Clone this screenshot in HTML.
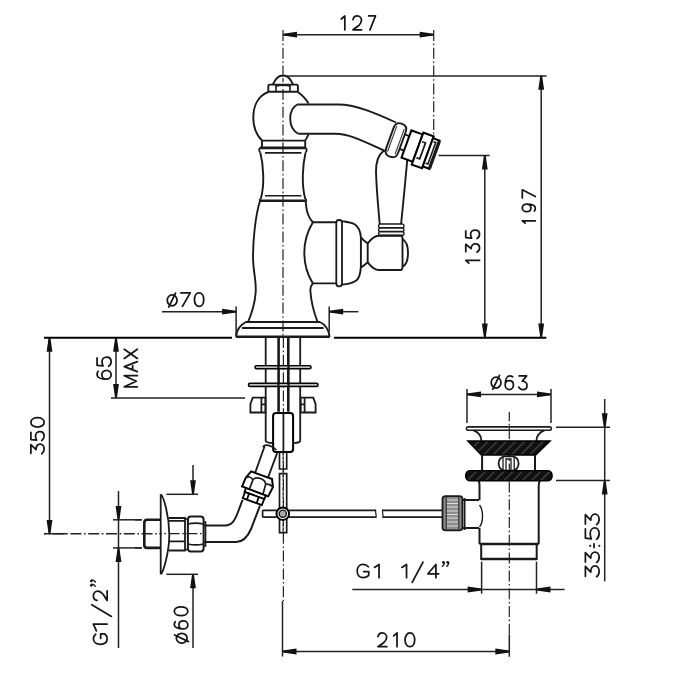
<!DOCTYPE html>
<html><head><meta charset="utf-8"><style>
html,body{margin:0;padding:0;background:#fff;}
svg{display:block;}
text{font-family:"Liberation Sans",sans-serif;fill:#111;}
</style></head><body>
<svg width="700" height="700" viewBox="0 0 700 700">
<rect width="700" height="700" fill="#fff"/>
<line x1="283" y1="34.7" x2="433.7" y2="34.7" stroke="#222" stroke-width="1.5" />
<path d="M283.00,33.80 L283.00,35.60 L297.00,37.60 L297.00,31.80 Z" fill="#111"/>
<path d="M433.70,35.60 L433.70,33.80 L419.70,31.80 L419.70,37.60 Z" fill="#111"/>
<line x1="433.7" y1="30" x2="433.7" y2="138" stroke="#222" stroke-width="1.2" stroke-dasharray="11 2.6 1.6 2.6" stroke-dashoffset="0"/>
<line x1="287" y1="76" x2="546.5" y2="76" stroke="#222" stroke-width="1.6" />
<line x1="541.2" y1="75.8" x2="541.2" y2="337.5" stroke="#222" stroke-width="1.5" />
<path d="M542.10,75.80 L540.30,75.80 L538.30,89.80 L544.10,89.80 Z" fill="#111"/>
<path d="M540.30,337.50 L542.10,337.50 L544.10,323.50 L538.30,323.50 Z" fill="#111"/>
<line x1="438.6" y1="155.5" x2="489.6" y2="155.5" stroke="#222" stroke-width="1.6" />
<line x1="484.8" y1="155.5" x2="484.8" y2="337.5" stroke="#222" stroke-width="1.5" />
<path d="M485.70,155.50 L483.90,155.50 L481.90,169.50 L487.70,169.50 Z" fill="#111"/>
<path d="M483.90,337.50 L485.70,337.50 L487.70,323.50 L481.90,323.50 Z" fill="#111"/>
<line x1="44" y1="337.7" x2="232" y2="337.7" stroke="#000" stroke-width="2.0" />
<line x1="334" y1="337.7" x2="546.3" y2="337.7" stroke="#000" stroke-width="2.0" />
<line x1="236.1" y1="306.6" x2="236.1" y2="336" stroke="#222" stroke-width="1.5" />
<line x1="329.2" y1="306.6" x2="329.2" y2="331.5" stroke="#222" stroke-width="1.5" />
<line x1="162" y1="311.7" x2="236.1" y2="311.7" stroke="#222" stroke-width="1.5" />
<path d="M236.10,312.60 L236.10,310.80 L222.10,308.80 L222.10,314.60 Z" fill="#111"/>
<line x1="329.2" y1="311.7" x2="358.4" y2="311.7" stroke="#222" stroke-width="1.5" />
<path d="M329.20,310.80 L329.20,312.60 L343.20,314.60 L343.20,308.80 Z" fill="#111"/>
<line x1="49.5" y1="337.7" x2="49.5" y2="534" stroke="#222" stroke-width="1.5" />
<path d="M50.40,337.70 L48.60,337.70 L46.60,351.70 L52.40,351.70 Z" fill="#111"/>
<path d="M48.60,534.00 L50.40,534.00 L52.40,520.00 L46.60,520.00 Z" fill="#111"/>
<line x1="116" y1="337.7" x2="116" y2="398" stroke="#222" stroke-width="1.5" />
<path d="M116.90,337.70 L115.10,337.70 L113.10,351.70 L118.90,351.70 Z" fill="#111"/>
<path d="M115.10,398.00 L116.90,398.00 L118.90,384.00 L113.10,384.00 Z" fill="#111"/>
<line x1="111" y1="398" x2="245" y2="398" stroke="#222" stroke-width="1.6" />
<line x1="118.5" y1="491" x2="118.5" y2="648" stroke="#222" stroke-width="1.5" />
<path d="M117.60,520.00 L119.40,520.00 L121.40,506.00 L115.60,506.00 Z" fill="#111"/>
<path d="M119.40,548.00 L117.60,548.00 L115.60,562.00 L121.40,562.00 Z" fill="#111"/>
<line x1="113" y1="519.8" x2="142" y2="519.8" stroke="#222" stroke-width="1.5" />
<line x1="113" y1="547.9" x2="142" y2="547.9" stroke="#222" stroke-width="1.5" />
<line x1="193" y1="465" x2="193" y2="494.3" stroke="#222" stroke-width="1.5" />
<path d="M192.10,494.30 L193.90,494.30 L195.90,480.30 L190.10,480.30 Z" fill="#111"/>
<line x1="193" y1="574.3" x2="193" y2="648" stroke="#222" stroke-width="1.5" />
<path d="M193.90,574.30 L192.10,574.30 L190.10,588.30 L195.90,588.30 Z" fill="#111"/>
<line x1="166.4" y1="494.3" x2="198" y2="494.3" stroke="#222" stroke-width="1.5" />
<line x1="166.4" y1="574.3" x2="198" y2="574.3" stroke="#222" stroke-width="1.5" />
<line x1="467" y1="389" x2="467" y2="423" stroke="#222" stroke-width="1.5" />
<line x1="551" y1="389" x2="551" y2="423" stroke="#222" stroke-width="1.5" />
<line x1="467" y1="394.4" x2="551" y2="394.4" stroke="#222" stroke-width="1.5" />
<path d="M467.00,393.50 L467.00,395.30 L481.00,397.30 L481.00,391.50 Z" fill="#111"/>
<path d="M551.00,395.30 L551.00,393.50 L537.00,391.50 L537.00,397.30 Z" fill="#111"/>
<line x1="604.7" y1="399" x2="604.7" y2="581.3" stroke="#222" stroke-width="1.5" />
<path d="M603.80,427.20 L605.60,427.20 L607.60,413.20 L601.80,413.20 Z" fill="#111"/>
<path d="M605.60,480.60 L603.80,480.60 L601.80,494.60 L607.60,494.60 Z" fill="#111"/>
<line x1="556" y1="427.2" x2="610" y2="427.2" stroke="#222" stroke-width="1.5" />
<line x1="556" y1="480.6" x2="610" y2="480.6" stroke="#222" stroke-width="1.5" />
<line x1="352.3" y1="589.5" x2="564.6" y2="589.5" stroke="#222" stroke-width="1.5" />
<path d="M481.60,590.40 L481.60,588.60 L467.60,586.60 L467.60,592.40 Z" fill="#111"/>
<path d="M536.50,588.60 L536.50,590.40 L550.50,592.40 L550.50,586.60 Z" fill="#111"/>
<line x1="481.6" y1="561.6" x2="481.6" y2="593.7" stroke="#222" stroke-width="1.5" />
<line x1="536.5" y1="561.6" x2="536.5" y2="593.7" stroke="#222" stroke-width="1.5" />
<line x1="282.5" y1="651.5" x2="509.3" y2="651.5" stroke="#222" stroke-width="1.5" />
<path d="M282.50,650.60 L282.50,652.40 L296.50,654.40 L296.50,648.60 Z" fill="#111"/>
<path d="M509.30,652.40 L509.30,650.60 L495.30,648.60 L495.30,654.40 Z" fill="#111"/>
<line x1="282.5" y1="601" x2="282.5" y2="656.5" stroke="#222" stroke-width="1.5" />
<line x1="509.3" y1="635" x2="509.3" y2="656.7" stroke="#222" stroke-width="1.5" />
<line x1="283" y1="30" x2="283" y2="75" stroke="#222" stroke-width="1.2" stroke-dasharray="11 2.6 1.6 2.6" stroke-dashoffset="0"/>
<line x1="283" y1="78" x2="283" y2="337" stroke="#222" stroke-width="1.2" stroke-dasharray="11 2.6 1.6 2.6" stroke-dashoffset="-11"/>
<line x1="283.4" y1="337" x2="283.4" y2="601" stroke="#222" stroke-width="1.2" stroke-dasharray="11 2.6 1.6 2.6" stroke-dashoffset="0"/>
<line x1="44" y1="533.7" x2="160" y2="533.7" stroke="#222" stroke-width="1.5" stroke-dasharray="11 2.6 1.6 2.6" stroke-dashoffset="-8.6"/>
<line x1="44" y1="533.7" x2="66.5" y2="533.7" stroke="#222" stroke-width="1.5" />
<line x1="160" y1="533.7" x2="204" y2="533.7" stroke="#222" stroke-width="1.2" stroke-dasharray="11 2.6 1.6 2.6" stroke-dashoffset="-8.6"/>
<line x1="509.3" y1="412" x2="509.3" y2="635" stroke="#222" stroke-width="1.2" stroke-dasharray="11 2.6 1.6 2.6" stroke-dashoffset="1.8"/>
<path d="M272.6,85 C274.5,81 277,76.3 281,75.8 L285,75.8 C289,76.3 291.5,81 293.4,85" stroke="#1a1a1a" stroke-width="1.9" fill="none" />
<path d="M269.8,84.6 L296.4,84.6 Q297.9,84.6 297.9,86 L297.9,91.8 L268.3,91.8 L268.3,86 Q268.3,84.6 269.8,84.6 Z" stroke="#1a1a1a" stroke-width="1.9" fill="none" />
<path d="M276,85 L276,91.6 M290,85 L290,91.6" stroke="#1a1a1a" stroke-width="1.6" fill="none" />
<path d="M276,86.5 C279,84.8 287,84.8 290,86.5" stroke="#1a1a1a" stroke-width="1.4" fill="none" />
<path d="M268.3,92 C258,96 253.3,106 253.3,117.4 C253.3,128 256.5,135 262,140.5" stroke="#1a1a1a" stroke-width="1.9" fill="none" />
<path d="M297.9,92 C302,95 306,99 308.5,103.5" stroke="#1a1a1a" stroke-width="1.9" fill="none" />
<path d="M308.5,134.5 C307.5,137 306,139 305.2,140.5" stroke="#1a1a1a" stroke-width="1.9" fill="none" />
<path d="M297.3,104.5 L338.6,104.5 C355,104.5 375,113 396,122.5" stroke="#1a1a1a" stroke-width="1.9" fill="none" />
<path d="M298.5,133.8 L335.7,133.8 C350,133.8 365,142 386,151.4" stroke="#1a1a1a" stroke-width="1.9" fill="none" />
<path d="M297.3,104.5 C292.5,107 290.2,112 290.2,118.6 C290.2,125.5 292.5,131 298.5,133.8" stroke="#1a1a1a" stroke-width="1.9" fill="none" />
<path d="M262,140.6 L305.2,140.6 M262,140.6 L262,147.9 M305.2,140.6 L305.2,147.9" stroke="#1a1a1a" stroke-width="1.9" fill="none" />
<path d="M260,147.9 L305.7,147.9" stroke="#1a1a1a" stroke-width="2.6" fill="none" />
<path d="M260,147.9 C258.8,149 258.8,151 260.3,152.5 M305.7,147.9 C307,149 307,151 305.6,152.5" stroke="#1a1a1a" stroke-width="1.8" fill="none" />
<path d="M265,152.9 L301.4,152.9" stroke="#1a1a1a" stroke-width="1.6" fill="none" />
<path d="M260.3,152.5 C263.5,165 264.8,185 260.7,199 M305.6,152.5 C302.5,165 301.4,185 305.3,199" stroke="#1a1a1a" stroke-width="1.9" fill="none" />
<path d="M265,195.7 L301.4,195.7" stroke="#1a1a1a" stroke-width="1.6" fill="none" />
<path d="M260,200.7 L305.7,200.7" stroke="#1a1a1a" stroke-width="2.6" fill="none" />
<path d="M260.7,199 C259.3,199.5 259.3,200.5 260,201 M305.3,199 C306.7,199.5 306.7,200.5 305.7,201" stroke="#1a1a1a" stroke-width="1.6" fill="none" />
<path d="M260,201 C255.5,215 253,240 253,256 C253,272 256.5,280 255.7,292 C255,305 251,315 248.1,322" stroke="#1a1a1a" stroke-width="1.9" fill="none" />
<path d="M305.7,201 C306,207 307,212 308.5,215.5 C310,219 311.5,221 312.9,222.3" stroke="#1a1a1a" stroke-width="1.9" fill="none" />
<path d="M312.9,283.4 C311,285.5 310.3,287 310.3,290 C311,302 314.5,314 317.6,322" stroke="#1a1a1a" stroke-width="1.9" fill="none" />
<path d="M245.6,322 L320.1,322 M242,328 L323.6,328" stroke="#1a1a1a" stroke-width="1.9" fill="none" />
<path d="M236,336.8 L329.6,336.8" stroke="#1a1a1a" stroke-width="2.4" fill="none" />
<path d="M246,322 C240,325 236.5,331 236,336.8 M320,322 C326,325 329,331 329.6,336.8" stroke="#1a1a1a" stroke-width="1.9" fill="none" />
<path d="M312.9,222.3 L336.9,222.3 M312.9,283.4 L336.9,283.4" stroke="#1a1a1a" stroke-width="1.9" fill="none" />
<path d="M312.9,222.3 C307,232 304.3,243 304.3,252.9 C304.3,263 307,274 312.9,283.4" stroke="#1a1a1a" stroke-width="1.9" fill="none" />
<path d="M338.8,220 L339.5,220 Q342,220 342,223 L342,283.3 Q342,286.3 339.5,286.3 L338.8,286.3 Q336.3,286.3 336.3,283.3 L336.3,223 Q336.3,220 338.8,220 Z" stroke="#1a1a1a" stroke-width="1.8" fill="none" />
<path d="M342,221.1 C347,222 352,222.5 355,224.5 C358.5,227 360.5,231 360.9,237.4 L360.9,266.6 C360.5,273 359,278 356.6,280.3 C352,283.5 347,284.5 342,284.6" stroke="#1a1a1a" stroke-width="1.9" fill="none" />
<path d="M360.9,237.4 C363,240 365.5,242 367.7,243.4 L367.7,262.3 C365.5,264 363.5,266 360.9,267.5" stroke="#1a1a1a" stroke-width="1.9" fill="none" />
<path d="M367.7,243.4 C371,239 374.5,235.7 378.9,235.7 L401.1,235.7 C402,236 402.5,237.5 402.5,239 L402.5,266.6 C402.5,268 402,269.7 401.1,270 L378.9,270 C374.5,270 371,266.5 367.7,262.3" stroke="#1a1a1a" stroke-width="1.9" fill="none" />
<path d="M402.5,239 C406,241 408,247 408,252.9 C408,259 406,265 402.5,266.6" stroke="#1a1a1a" stroke-width="1.9" fill="none" />
<path d="M384,150.5 C378,155 375.8,162 376,172 C376.5,190 378.5,210 379.7,224" stroke="#1a1a1a" stroke-width="1.9" fill="none" />
<path d="M407.4,158 C406,175 403,205 401.1,224" stroke="#1a1a1a" stroke-width="1.9" fill="none" />
<path d="M379.7,224 L402.9,224 M379.7,227.8 L402.9,227.8 M379.7,231.6 L402.9,231.6 M379.7,235.4 L402.9,235.4" stroke="#1a1a1a" stroke-width="1.7" fill="none" />
<path d="M379.7,224 C378.2,225 378.2,227 379.7,227.8 C378.2,228.6 378.2,230.6 379.7,231.6 C378.2,232.4 378.2,234.4 379.7,235.4 M402.9,224 C404.4,225 404.4,227 402.9,227.8 C404.4,228.6 404.4,230.6 402.9,231.6 C404.4,232.4 404.4,234.4 402.9,235.4" stroke="#1a1a1a" stroke-width="1.4" fill="none" />
<g transform="translate(411.4,130.4) rotate(20)">
<path d="M-11.5,-3 L-11,-3 Q-4.8,-3 -4.8,3.5 L-4.8,25.5 Q-4.8,32 -11,32 L-11.5,32 Q-17.6,32 -17.6,25.5 L-17.6,3.5 Q-17.6,-3 -11.5,-3 Z" stroke="#1a1a1a" stroke-width="1.9" fill="#fff" />
<path d="M-15.2,1 L-15.2,28 M-7.2,1 L-7.2,28" stroke="#444" stroke-width="1.2" fill="none" />
<path d="M-5,6 L0,6 M-5,21.5 L0,21.5" stroke="#1a1a1a" stroke-width="1.8" fill="none" />
<path d="M0,0 L12,0 L12,29 L0,29 Z" stroke="#000" stroke-width="2.0" fill="#fff" />
<path d="M12,-2 L23,-2 L23,32 L12,32 Z" stroke="#000" stroke-width="2.0" fill="#fff" />
<path d="M14,7 L17.5,7 L17.5,24 L14,24" stroke="#1a1a1a" stroke-width="1.8" fill="none" />
<path d="M23,0 L30,0 L30,30 L23,30 Z" stroke="#000" stroke-width="2.0" fill="#fff" />
<path d="M30,0.5 L30,29.5" stroke="#1a1a1a" stroke-width="3.2" fill="none" />
<path d="M24.6,3 L27,3 L27,26 L24.6,26" stroke="#1a1a1a" stroke-width="1.6" fill="none" />
</g>
<path d="M265.7,337 L265.7,441 C266.5,442.5 270,443 273.1,443 M300.2,337 L300.2,441 C299.5,442.5 296,443 293.1,443" stroke="#1a1a1a" stroke-width="1.8" fill="none" />
<path d="M278.6,337 L278.6,411.7 M288.3,337 L288.3,411.7" stroke="#1a1a1a" stroke-width="2.6" fill="none" />
<path d="M256.4,365.8 L309.6,365.8 Q311,365.8 311,367.2 Q311,368.6 309.6,368.6 L256.4,368.6 Q255,368.6 255,367.2 Q255,365.8 256.4,365.8 Z" stroke="#000" stroke-width="1.6" fill="#fff" />
<path d="M250,383.4 L316.5,383.4 Q318,383.4 318,384.9 Q318,386.4 316.5,386.4 L250,386.4 Q248.5,386.4 248.5,384.9 Q248.5,383.4 250,383.4 Z" stroke="#000" stroke-width="1.6" fill="#fff" />
<path d="M278.4,365.8 L278.4,368.6 M288.5,365.8 L288.5,368.6 M278.4,383.4 L278.4,386.4 M288.5,383.4 L288.5,386.4" stroke="#1a1a1a" stroke-width="2.3" fill="none" />
<path d="M252.8,397.6 L265.4,397.6 L265.4,412.5 L250.4,412.5 L250.4,403.9 Z M261.4,397.6 L261.4,412.5 M261.4,404.3 L265.4,404.3" stroke="#1a1a1a" stroke-width="1.8" fill="none" />
<path d="M313.2,397.6 L300.7,397.6 L300.7,412.5 L315.6,412.5 L315.6,403.9 Z M304.6,397.6 L304.6,412.5 M300.7,404.3 L304.6,404.3" stroke="#1a1a1a" stroke-width="1.8" fill="none" />
<path d="M276,413 L290.2,413 Q293.1,413 293.1,416 L293.1,449 Q293.1,452 290.2,452 L276,452 Q273.1,452 273.1,449 L273.1,416 Q273.1,413 276,413 Z" stroke="#000" stroke-width="2.0" fill="#fff" />
<path d="M283.4,413 L283.4,452" stroke="#1a1a1a" stroke-width="1.8" fill="none" />
<path d="M279.5,452 L279.5,469 L286.7,469 L286.7,452" stroke="#1a1a1a" stroke-width="1.7" fill="none" />
<path d="M279.5,473.7 L286.7,473.7 L286.7,532.6 L279.5,532.6 Z" stroke="#1a1a1a" stroke-width="1.7" fill="none" />
<line x1="283.1" y1="452" x2="283.1" y2="532" stroke="#222" stroke-width="1.0" stroke-dasharray="11 2.6 1.6 2.6" stroke-dashoffset="0"/>
<path d="M264.6,446.3 L255.4,472.1 M277.1,453.1 L268.2,477.1" stroke="#1a1a1a" stroke-width="1.8" fill="none" />
<path d="M262.8,447 C264.5,444.3 268,444.5 273.5,447.5 L276.5,450 M262.8,447 L264.6,446.3" stroke="#1a1a1a" stroke-width="1.6" fill="none" />
<g transform="translate(251.1,471.4) rotate(20)">
<path d="M0,0 L22.3,0 L25.9,7.3 L24.6,17.6 L-3.3,17.2 L-2.9,8 Z" stroke="#000" stroke-width="2.0" fill="#fff" />
<path d="M4.5,17.2 L4.6,7.5 C5.5,4.5 8,3.5 11.3,3.5 C14.5,3.5 17,4.8 18.1,7.1 L19,17.5 M-2.9,8 C-1.5,5.5 2,4.8 4.6,7.5 M18.1,7.1 C20,5.8 23.5,6 25.9,7.3" stroke="#1a1a1a" stroke-width="1.7" fill="none" />
<path d="M0.8,17.6 L22,17.6 L22,21.5 L0.8,21.5 Z" stroke="#000" stroke-width="1.8" fill="#fff" />
<path d="M1.3,21.5 L21.7,21.5 L21.7,28 L1.3,28 Z M5.7,21.5 L5.7,28 M16,21.5 L16,28" stroke="#000" stroke-width="1.8" fill="#fff" />
</g>
<path d="M242.5,500 L238,512 C235,520 232,525.4 226,525.4 L204,525.4" stroke="#1a1a1a" stroke-width="2.0" fill="none" />
<path d="M260,505.7 L251,529 C248,536 244,542 236,542 L204,542" stroke="#1a1a1a" stroke-width="2.0" fill="none" />
<path d="M190.9,516.4 L200.6,516.4 Q203.6,516.4 203.6,519.4 L203.6,548.4 Q203.6,551.4 200.6,551.4 L190.9,551.4 Q187.9,551.4 187.9,548.4 L187.9,519.4 Q187.9,516.4 190.9,516.4 Z" stroke="#1a1a1a" stroke-width="2.0" fill="none" />
<path d="M187.9,524 C192,523 199,523 203.6,524 M187.9,544 C192,545 199,545 203.6,544" stroke="#1a1a1a" stroke-width="1.6" fill="none" />
<path d="M203.6,522 L205.5,522 L205.5,546 L203.6,546" stroke="#1a1a1a" stroke-width="1.6" fill="none" />
<path d="M168.6,518 L185,518 L185,550.5 L168.6,550.5 M168.6,520.9 L185,520.9 M168.6,541.4 L185,541.4" stroke="#1a1a1a" stroke-width="1.8" fill="none" />
<path d="M185,519 L187.9,519 M185,549.5 L187.9,549.5" stroke="#1a1a1a" stroke-width="1.6" fill="none" />
<path d="M160.7,494.3 L160.7,574.3 M160.7,494.3 C163,495 169.3,515 169.3,534.3 C169.3,553 163,573 160.7,574.3" stroke="#1a1a1a" stroke-width="1.8" fill="none" />
<path d="M160.7,519.7 L147.3,519.7 Q144.3,519.7 144.3,522.7 L144.3,544.9 Q144.3,547.9 147.3,547.9 L160.7,547.9" stroke="#1a1a1a" stroke-width="2.6" fill="none" />
<line x1="135" y1="519.8" x2="141.4" y2="519.8" stroke="#222" stroke-width="1.5" />
<line x1="135" y1="547.9" x2="141.4" y2="547.9" stroke="#222" stroke-width="1.5" />
<path d="M262.6,510.3 L276.5,510.3 M262.6,517.2 L276.5,517.2 M262.6,510.3 L262.6,517.2" stroke="#1a1a1a" stroke-width="1.7" fill="none" />
<path d="M289.1,510.3 L375.9,510.3 M289.1,517.2 L375.9,517.2" stroke="#1a1a1a" stroke-width="1.7" fill="none" />
<path d="M375.9,509.5 C374.5,511.5 377,514 375.9,518" stroke="#1a1a1a" stroke-width="1.2" fill="none" />
<path d="M382.8,510.3 L442.7,510.3 M382.8,517.2 L442.7,517.2" stroke="#1a1a1a" stroke-width="1.7" fill="none" />
<path d="M382.8,509.5 C381.4,511.5 383.9,514 382.8,518" stroke="#1a1a1a" stroke-width="1.2" fill="none" />
<circle cx="282.8" cy="513.7" r="6.3" fill="#fff" stroke="#000" stroke-width="2"/>
<circle cx="282.8" cy="513.7" r="3.6" fill="#aaa" stroke="#111" stroke-width="1.4"/>
<path d="M445.5,496.2 L459.5,496.2 Q462.4,496.2 462.4,499 L462.4,527.5 Q462.4,530.4 459.5,530.4 L445.5,530.4 Q442.5,530.4 442.5,527.5 L442.5,499 Q442.5,496.2 445.5,496.2 Z" stroke="#1a1a1a" stroke-width="1.8" fill="#8c8c8c" />
<path d="M446.5,500 L458.5,500 M446.5,503.5 L458.5,503.5 M446.5,507 L458.5,507 M446.5,511 L458.5,511 M446.5,514.5 L458.5,514.5 M446.5,518 L458.5,518 M446.5,522 L458.5,522 M446.5,526 L458.5,526" stroke="#e8e8e8" stroke-width="0.9" fill="none" />
<path d="M446.2,497 L446.2,529.6 M458.8,497 L458.8,529.6" stroke="#333" stroke-width="1.2" fill="none" />
<path d="M462.6,500 L479,500 M462.6,528 L479,528 M464.6,498 L464.6,530" stroke="#1a1a1a" stroke-width="1.8" fill="none" />
<path d="M479.5,505 C483.5,510 483.5,522 479.5,527" stroke="#1a1a1a" stroke-width="1.4" fill="none" />
<path d="M478.6,480.7 C479.6,482 479.5,483.5 479.5,486 L479.5,500 M479.5,528 L479.5,544 M539.9,480.7 C538.9,482 538.7,483.5 538.7,486 L538.7,544" stroke="#1a1a1a" stroke-width="2.0" fill="none" />
<path d="M479.5,544 L538.7,544" stroke="#1a1a1a" stroke-width="2.6" fill="none" />
<path d="M481.2,544 L481.2,559 L536.7,559 L536.7,544" stroke="#1a1a1a" stroke-width="2.0" fill="none" />
<path d="M481.2,559 L536.7,559" stroke="#1a1a1a" stroke-width="2.6" fill="none" />
<path d="M467.9,426.9 L549.9,426.9 Q551.4,426.9 551.4,428.6 Q551.4,430.3 549.9,430.3 L467.9,430.3 Q466.4,430.3 466.4,428.6 Q466.4,426.9 467.9,426.9 Z" stroke="#1a1a1a" stroke-width="1.6" fill="none" />
<path d="M473.6,430.3 C478,432 481.4,436 481.4,441 M544.3,430.3 C540,432 536.4,436 536.4,441" stroke="#1a1a1a" stroke-width="1.8" fill="none" />
<defs><pattern id="hatch" width="6.5" height="6.5" patternUnits="userSpaceOnUse" patternTransform="rotate(45)"><rect width="6.5" height="6.5" fill="#111"/><rect x="0" y="0" width="1.3" height="6.5" fill="#fff" opacity="0.22"/></pattern></defs>
<path d="M467.9,441.1 L550,441.1 L535.7,455 L481.4,455 Z" stroke="#000" stroke-width="1.5" fill="url(#hatch)" />
<path d="M482.1,455 L482.1,470.7 M535,455 L535,470.7" stroke="#1a1a1a" stroke-width="2.0" fill="none" />
<path d="M505,456.4 L512.2,456.4 C516.5,456.4 518.6,460 518.6,463.5 C518.6,467 516.5,470.7 512.2,470.7 L505,470.7 C500.7,470.7 498.6,467 498.6,463.5 C498.6,460 500.7,456.4 505,456.4 Z" stroke="#1a1a1a" stroke-width="1.8" fill="none" />
<path d="M503,457 L503,470 M514.2,457 L514.2,470 M506,470 L506,459 L511,459 L511,470" stroke="#1a1a1a" stroke-width="1.3" fill="none" />
<path d="M470.7,470.7 L547.1,470.7 Q552.1,470.7 552.1,475.7 Q552.1,480.7 547.1,480.7 L470.7,480.7 Q465.7,480.7 465.7,475.7 Q465.7,470.7 470.7,470.7 Z" stroke="#000" stroke-width="1.5" fill="url(#hatch)" />
<path d="M0,0.22 L1,0 L1,1" transform="translate(341.27,15.97) scale(3.550,13.850)" fill="none" stroke="#151515" stroke-width="1.75" vector-effect="non-scaling-stroke" stroke-linecap="round" stroke-linejoin="round"/>
<path d="M0,0.27 C0.06,0.09 0.26,0 0.5,0 C0.78,0 0.98,0.15 0.98,0.33 C0.98,0.49 0.84,0.58 0.64,0.71 L0,1 L1,1" transform="translate(352.98,15.97) scale(8.650,13.850)" fill="none" stroke="#151515" stroke-width="1.75" vector-effect="non-scaling-stroke" stroke-linecap="round" stroke-linejoin="round"/>
<path d="M0,0 L1,0 L0.17,1" transform="translate(368.77,15.97) scale(6.750,13.850)" fill="none" stroke="#151515" stroke-width="1.75" vector-effect="non-scaling-stroke" stroke-linecap="round" stroke-linejoin="round"/>
<path d="M0,0.27 C0.06,0.09 0.26,0 0.5,0 C0.78,0 0.98,0.15 0.98,0.33 C0.98,0.49 0.84,0.58 0.64,0.71 L0,1 L1,1" transform="translate(377.98,632.88) scale(8.850,13.850)" fill="none" stroke="#151515" stroke-width="1.75" vector-effect="non-scaling-stroke" stroke-linecap="round" stroke-linejoin="round"/>
<path d="M0,0.22 L1,0 L1,1" transform="translate(393.68,632.88) scale(3.350,13.850)" fill="none" stroke="#151515" stroke-width="1.75" vector-effect="non-scaling-stroke" stroke-linecap="round" stroke-linejoin="round"/>
<path d="M0.5,0 C0.8,0 1,0.22 1,0.5 C1,0.78 0.8,1 0.5,1 C0.2,1 0,0.78 0,0.5 C0,0.22 0.2,0 0.5,0 Z" transform="translate(405.07,632.88) scale(9.650,13.850)" fill="none" stroke="#151515" stroke-width="1.75" vector-effect="non-scaling-stroke" stroke-linecap="round" stroke-linejoin="round"/>
<ellipse cx="496.1" cy="382.6" rx="4.9" ry="5.4" fill="none" stroke="#151515" stroke-width="1.75"/>
<line x1="492.70000000000005" y1="389.3" x2="499.5" y2="375.40000000000003" stroke="#151515" stroke-width="1.75" stroke-linecap="round"/>
<path d="M0.9,0.07 C0.78,0.02 0.65,0 0.54,0 C0.2,0 0,0.3 0,0.66 C0,0.86 0.22,1 0.5,1 C0.78,1 1,0.86 1,0.67 C1,0.47 0.78,0.34 0.5,0.34 C0.22,0.34 0,0.47 0,0.66" transform="translate(505.18,375.88) scale(8.250,13.650)" fill="none" stroke="#151515" stroke-width="1.75" vector-effect="non-scaling-stroke" stroke-linecap="round" stroke-linejoin="round"/>
<path d="M0.04,0 L0.95,0 L0.42,0.39 C0.82,0.39 1,0.55 1,0.7 C1,0.88 0.78,1 0.5,1 C0.28,1 0.1,0.93 0,0.82" transform="translate(518.77,375.88) scale(8.250,13.650)" fill="none" stroke="#151515" stroke-width="1.75" vector-effect="non-scaling-stroke" stroke-linecap="round" stroke-linejoin="round"/>
<ellipse cx="172.15" cy="300.35" rx="4.9" ry="5.4" fill="none" stroke="#151515" stroke-width="1.75"/>
<line x1="168.75" y1="307.05" x2="175.55" y2="293.15000000000003" stroke="#151515" stroke-width="1.75" stroke-linecap="round"/>
<path d="M0,0 L1,0 L0.17,1" transform="translate(180.88,292.88) scale(9.350,13.550)" fill="none" stroke="#151515" stroke-width="1.75" vector-effect="non-scaling-stroke" stroke-linecap="round" stroke-linejoin="round"/>
<path d="M0.5,0 C0.8,0 1,0.22 1,0.5 C1,0.78 0.8,1 0.5,1 C0.2,1 0,0.78 0,0.5 C0,0.22 0.2,0 0.5,0 Z" transform="translate(194.47,292.88) scale(9.250,13.550)" fill="none" stroke="#151515" stroke-width="1.75" vector-effect="non-scaling-stroke" stroke-linecap="round" stroke-linejoin="round"/>
<path d="M0.96,0.17 C0.85,0.06 0.7,0 0.52,0 C0.2,0 0,0.22 0,0.5 C0,0.8 0.2,1 0.52,1 C0.72,1 0.88,0.93 1,0.82 L1,0.53 L0.56,0.53" transform="translate(357.18,564.48) scale(11.550,13.250)" fill="none" stroke="#151515" stroke-width="1.75" vector-effect="non-scaling-stroke" stroke-linecap="round" stroke-linejoin="round"/>
<path d="M0,0.22 L1,0 L1,1" transform="translate(374.48,564.48) scale(4.550,13.250)" fill="none" stroke="#151515" stroke-width="1.75" vector-effect="non-scaling-stroke" stroke-linecap="round" stroke-linejoin="round"/>
<path d="M0,0.22 L1,0 L1,1" transform="translate(401.88,564.48) scale(4.650,13.250)" fill="none" stroke="#151515" stroke-width="1.75" vector-effect="non-scaling-stroke" stroke-linecap="round" stroke-linejoin="round"/>
<path d="M0,1 L1,0" transform="translate(412.18,562.17) scale(10.850,20.250)" fill="none" stroke="#151515" stroke-width="1.75" vector-effect="non-scaling-stroke" stroke-linecap="round" stroke-linejoin="round"/>
<path d="M0.74,1 L0.74,0 L0,0.7 L1,0.7" transform="translate(427.88,564.48) scale(10.850,13.250)" fill="none" stroke="#151515" stroke-width="1.75" vector-effect="non-scaling-stroke" stroke-linecap="round" stroke-linejoin="round"/>
<circle cx="443.40" cy="562.30" r="1.35" fill="#151515"/>
<path d="M444.50,562.60 C444.50,564.20 443.50,565.60 442.40,566.40" fill="none" stroke="#151515" stroke-width="1.3" stroke-linecap="round"/>
<circle cx="447.70" cy="562.30" r="1.35" fill="#151515"/>
<path d="M448.80,562.60 C448.80,564.20 447.80,565.60 446.70,566.40" fill="none" stroke="#151515" stroke-width="1.3" stroke-linecap="round"/>
<g transform="matrix(0,-1,1,0,0,0)">
<path d="M0,0.22 L1,0 L1,1" transform="translate(-223.12,522.27) scale(2.350,13.050)" fill="none" stroke="#151515" stroke-width="1.75" vector-effect="non-scaling-stroke" stroke-linecap="round" stroke-linejoin="round"/>
<path d="M1,0.34 C1,0.14 0.78,0 0.5,0 C0.22,0 0,0.14 0,0.34 C0,0.54 0.22,0.66 0.5,0.66 C0.78,0.66 1,0.54 1,0.34 C1,0.7 0.8,1 0.46,1 C0.35,1 0.22,0.98 0.1,0.93" transform="translate(-211.72,522.27) scale(7.550,13.050)" fill="none" stroke="#151515" stroke-width="1.75" vector-effect="non-scaling-stroke" stroke-linecap="round" stroke-linejoin="round"/>
<path d="M0,0 L1,0 L0.17,1" transform="translate(-197.93,522.27) scale(8.150,13.050)" fill="none" stroke="#151515" stroke-width="1.75" vector-effect="non-scaling-stroke" stroke-linecap="round" stroke-linejoin="round"/>
<path d="M0,0.22 L1,0 L1,1" transform="translate(-263.23,465.77) scale(2.850,13.750)" fill="none" stroke="#151515" stroke-width="1.75" vector-effect="non-scaling-stroke" stroke-linecap="round" stroke-linejoin="round"/>
<path d="M0.04,0 L0.95,0 L0.42,0.39 C0.82,0.39 1,0.55 1,0.7 C1,0.88 0.78,1 0.5,1 C0.28,1 0.1,0.93 0,0.82" transform="translate(-252.03,465.77) scale(8.150,13.750)" fill="none" stroke="#151515" stroke-width="1.75" vector-effect="non-scaling-stroke" stroke-linecap="round" stroke-linejoin="round"/>
<path d="M0.92,0 L0.1,0 L0.04,0.43 C0.2,0.37 0.35,0.35 0.5,0.35 C0.8,0.35 1,0.5 1,0.68 C1,0.88 0.78,1 0.5,1 C0.28,1 0.1,0.93 0,0.82" transform="translate(-238.53,465.77) scale(8.450,13.750)" fill="none" stroke="#151515" stroke-width="1.75" vector-effect="non-scaling-stroke" stroke-linecap="round" stroke-linejoin="round"/>
<path d="M0.04,0 L0.95,0 L0.42,0.39 C0.82,0.39 1,0.55 1,0.7 C1,0.88 0.78,1 0.5,1 C0.28,1 0.1,0.93 0,0.82" transform="translate(-453.73,30.88) scale(9.650,13.250)" fill="none" stroke="#151515" stroke-width="1.75" vector-effect="non-scaling-stroke" stroke-linecap="round" stroke-linejoin="round"/>
<path d="M0.92,0 L0.1,0 L0.04,0.43 C0.2,0.37 0.35,0.35 0.5,0.35 C0.8,0.35 1,0.5 1,0.68 C1,0.88 0.78,1 0.5,1 C0.28,1 0.1,0.93 0,0.82" transform="translate(-440.52,30.88) scale(8.950,13.250)" fill="none" stroke="#151515" stroke-width="1.75" vector-effect="non-scaling-stroke" stroke-linecap="round" stroke-linejoin="round"/>
<path d="M0.5,0 C0.8,0 1,0.22 1,0.5 C1,0.78 0.8,1 0.5,1 C0.2,1 0,0.78 0,0.5 C0,0.22 0.2,0 0.5,0 Z" transform="translate(-427.02,30.88) scale(9.350,13.250)" fill="none" stroke="#151515" stroke-width="1.75" vector-effect="non-scaling-stroke" stroke-linecap="round" stroke-linejoin="round"/>
<path d="M0.9,0.07 C0.78,0.02 0.65,0 0.54,0 C0.2,0 0,0.3 0,0.66 C0,0.86 0.22,1 0.5,1 C0.78,1 1,0.86 1,0.67 C1,0.47 0.78,0.34 0.5,0.34 C0.22,0.34 0,0.47 0,0.66" transform="translate(-379.23,97.08) scale(8.850,14.050)" fill="none" stroke="#151515" stroke-width="1.75" vector-effect="non-scaling-stroke" stroke-linecap="round" stroke-linejoin="round"/>
<path d="M0.92,0 L0.1,0 L0.04,0.43 C0.2,0.37 0.35,0.35 0.5,0.35 C0.8,0.35 1,0.5 1,0.68 C1,0.88 0.78,1 0.5,1 C0.28,1 0.1,0.93 0,0.82" transform="translate(-366.32,97.08) scale(9.150,14.050)" fill="none" stroke="#151515" stroke-width="1.75" vector-effect="non-scaling-stroke" stroke-linecap="round" stroke-linejoin="round"/>
<path d="M0,1 L0,0 L0.5,0.92 L1,0 L1,1" transform="translate(-386.82,124.28) scale(11.150,13.050)" fill="none" stroke="#151515" stroke-width="1.75" vector-effect="non-scaling-stroke" stroke-linecap="round" stroke-linejoin="round"/>
<path d="M0,1 L0.5,0 L1,1 M0.19,0.64 L0.81,0.64" transform="translate(-371.62,124.28) scale(9.950,13.050)" fill="none" stroke="#151515" stroke-width="1.75" vector-effect="non-scaling-stroke" stroke-linecap="round" stroke-linejoin="round"/>
<path d="M0,0 L1,1 M1,0 L0,1" transform="translate(-358.43,124.28) scale(9.250,13.050)" fill="none" stroke="#151515" stroke-width="1.75" vector-effect="non-scaling-stroke" stroke-linecap="round" stroke-linejoin="round"/>
<path d="M0.96,0.17 C0.85,0.06 0.7,0 0.52,0 C0.2,0 0,0.22 0,0.5 C0,0.8 0.2,1 0.52,1 C0.72,1 0.88,0.93 1,0.82 L1,0.53 L0.56,0.53" transform="translate(-644.33,93.38) scale(10.550,13.750)" fill="none" stroke="#151515" stroke-width="1.75" vector-effect="non-scaling-stroke" stroke-linecap="round" stroke-linejoin="round"/>
<path d="M0,0.22 L1,0 L1,1" transform="translate(-630.92,93.38) scale(6.850,13.750)" fill="none" stroke="#151515" stroke-width="1.75" vector-effect="non-scaling-stroke" stroke-linecap="round" stroke-linejoin="round"/>
<path d="M0,1 L1,0" transform="translate(-616.42,91.78) scale(11.650,19.650)" fill="none" stroke="#151515" stroke-width="1.75" vector-effect="non-scaling-stroke" stroke-linecap="round" stroke-linejoin="round"/>
<path d="M0,0.27 C0.06,0.09 0.26,0 0.5,0 C0.78,0 0.98,0.15 0.98,0.33 C0.98,0.49 0.84,0.58 0.64,0.71 L0,1 L1,1" transform="translate(-600.42,93.38) scale(9.550,13.750)" fill="none" stroke="#151515" stroke-width="1.75" vector-effect="non-scaling-stroke" stroke-linecap="round" stroke-linejoin="round"/>
<circle cx="-585.30" cy="91.30" r="1.35" fill="#151515"/>
<path d="M-584.20,91.60 C-584.20,93.20 -585.20,94.60 -586.30,95.40" fill="none" stroke="#151515" stroke-width="1.3" stroke-linecap="round"/>
<circle cx="-581.00" cy="91.30" r="1.35" fill="#151515"/>
<path d="M-579.90,91.60 C-579.90,93.20 -580.90,94.60 -582.00,95.40" fill="none" stroke="#151515" stroke-width="1.3" stroke-linecap="round"/>
<path d="M0.9,0.07 C0.78,0.02 0.65,0 0.54,0 C0.2,0 0,0.3 0,0.66 C0,0.86 0.22,1 0.5,1 C0.78,1 1,0.86 1,0.67 C1,0.47 0.78,0.34 0.5,0.34 C0.22,0.34 0,0.47 0,0.66" transform="translate(-628.92,174.28) scale(7.950,13.550)" fill="none" stroke="#151515" stroke-width="1.75" vector-effect="non-scaling-stroke" stroke-linecap="round" stroke-linejoin="round"/>
<path d="M0.5,0 C0.8,0 1,0.22 1,0.5 C1,0.78 0.8,1 0.5,1 C0.2,1 0,0.78 0,0.5 C0,0.22 0.2,0 0.5,0 Z" transform="translate(-615.73,174.28) scale(8.950,13.550)" fill="none" stroke="#151515" stroke-width="1.75" vector-effect="non-scaling-stroke" stroke-linecap="round" stroke-linejoin="round"/>
<path d="M0.04,0 L0.95,0 L0.42,0.39 C0.82,0.39 1,0.55 1,0.7 C1,0.88 0.78,1 0.5,1 C0.28,1 0.1,0.93 0,0.82" transform="translate(-576.73,585.38) scale(10.850,13.750)" fill="none" stroke="#151515" stroke-width="1.75" vector-effect="non-scaling-stroke" stroke-linecap="round" stroke-linejoin="round"/>
<path d="M0.04,0 L0.95,0 L0.42,0.39 C0.82,0.39 1,0.55 1,0.7 C1,0.88 0.78,1 0.5,1 C0.28,1 0.1,0.93 0,0.82" transform="translate(-562.42,585.38) scale(10.350,13.750)" fill="none" stroke="#151515" stroke-width="1.75" vector-effect="non-scaling-stroke" stroke-linecap="round" stroke-linejoin="round"/>
<path d="M0.92,0 L0.1,0 L0.04,0.43 C0.2,0.37 0.35,0.35 0.5,0.35 C0.8,0.35 1,0.5 1,0.68 C1,0.88 0.78,1 0.5,1 C0.28,1 0.1,0.93 0,0.82" transform="translate(-539.33,585.38) scale(11.450,13.750)" fill="none" stroke="#151515" stroke-width="1.75" vector-effect="non-scaling-stroke" stroke-linecap="round" stroke-linejoin="round"/>
<path d="M0.04,0 L0.95,0 L0.42,0.39 C0.82,0.39 1,0.55 1,0.7 C1,0.88 0.78,1 0.5,1 C0.28,1 0.1,0.93 0,0.82" transform="translate(-524.52,585.38) scale(10.350,13.750)" fill="none" stroke="#151515" stroke-width="1.75" vector-effect="non-scaling-stroke" stroke-linecap="round" stroke-linejoin="round"/>
<path d="M0,0.5 L1,0.5" transform="translate(-547.62,586.88) scale(3.750,14.250)" fill="none" stroke="#151515" stroke-width="1.75" vector-effect="non-scaling-stroke" stroke-linecap="round" stroke-linejoin="round"/>
</g>
<ellipse cx="181.75" cy="638.2" rx="5.4" ry="4.9" fill="none" stroke="#151515" stroke-width="1.75"/>
<line x1="174.6" y1="635.0" x2="188.5" y2="641.6" stroke="#151515" stroke-width="1.75" stroke-linecap="round"/>
<circle cx="590.2" cy="545.8" r="1.1" fill="#151515"/><circle cx="599.3" cy="545.8" r="1.1" fill="#151515"/>
</svg>
</body></html>
